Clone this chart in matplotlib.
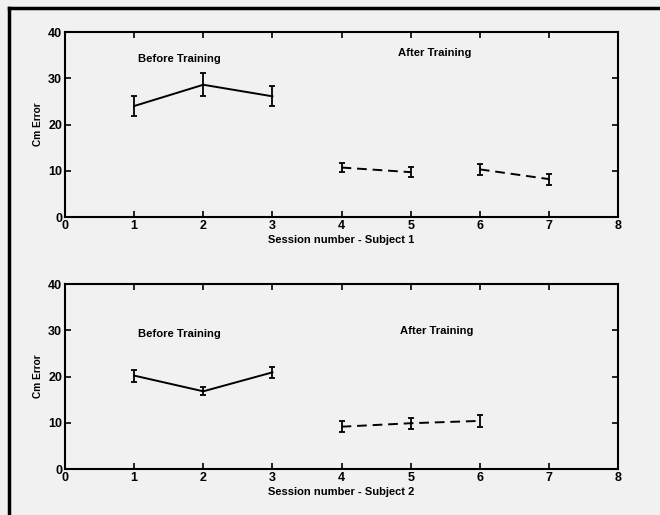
import matplotlib
matplotlib.use("Agg")
import matplotlib.pyplot as plt
from matplotlib.lines import Line2D

plt.rcParams['font.family'] = ['Liberation Sans', 'DejaVu Sans']
plt.rcParams['font.weight'] = 'bold'

# subject 1 : before / after training (two after-training blocks)
s1_before_x = [1, 2, 3]
s1_before_y = [24.0, 28.6, 26.1]
s1_before_err = [2.2, 2.5, 2.2]
s1_after_a_x = [4, 5]
s1_after_a_y = [10.7, 9.7]
s1_after_a_err = [1.0, 1.1]
s1_after_b_x = [6, 7]
s1_after_b_y = [10.3, 8.2]
s1_after_b_err = [1.2, 1.2]

# subject 2
s2_before_x = [1, 2, 3]
s2_before_y = [20.2, 16.8, 20.9]
s2_before_err = [1.3, 0.9, 1.2]
s2_after_x = [4, 5, 6]
s2_after_y = [9.15, 9.9, 10.4]
s2_after_err = [1.15, 1.2, 1.3]

xticks = [0, 1, 2, 3, 4, 5, 6, 7, 8]
yticks = [0, 10, 20, 30, 40]

bg = '#f1f1f1'
fig = plt.figure(figsize=(6.6, 5.15), dpi=100, facecolor=bg)
ax1 = fig.add_axes([0.0985, 0.5786, 0.838, 0.3592], facecolor=bg)
ax2 = fig.add_axes([0.0985, 0.0893, 0.838, 0.3592], facecolor=bg)

def errline(ax, x, y, e, ls):
    ax.errorbar(x, y, yerr=e, color='black', linestyle=ls, linewidth=1.4,
                elinewidth=1.3, capsize=2.5, capthick=1.3, dashes=(5, 3) if ls == '--' else None)

errline(ax1, s1_before_x, s1_before_y, s1_before_err, '-')
errline(ax1, s1_after_a_x, s1_after_a_y, s1_after_a_err, '--')
errline(ax1, s1_after_b_x, s1_after_b_y, s1_after_b_err, '--')
errline(ax2, s2_before_x, s2_before_y, s2_before_err, '-')
errline(ax2, s2_after_x, s2_after_y, s2_after_err, '--')

ax1.text(1.65, 34.1, 'Before Training', ha='center', va='center', fontsize=8.1, fontweight='bold')
ax1.text(5.34, 35.4, 'After Training', ha='center', va='center', fontsize=8.1, fontweight='bold')
ax2.text(1.65, 29.3, 'Before Training', ha='center', va='center', fontsize=8.1, fontweight='bold')
ax2.text(5.38, 29.9, 'After Training', ha='center', va='center', fontsize=8.1, fontweight='bold')

for ax, subj in [(ax1, 1), (ax2, 2)]:
    ax.set_xlim(0, 8)
    ax.set_ylim(0, 40)
    ax.set_xticks(xticks)
    ax.set_yticks(yticks)
    ax.tick_params(direction='in', length=4, width=1.2, top=True, right=True,
                   labelsize=9, pad=2)
    for lab in ax.get_xticklabels() + ax.get_yticklabels():
        lab.set_fontweight('bold')
    for sp in ax.spines.values():
        sp.set_linewidth(1.5)
    ax.set_xlabel('Session number - Subject %d' % subj, fontsize=8, fontweight='bold', labelpad=2)
    ax.set_ylabel('Cm Error', fontsize=7.3, fontweight='bold', labelpad=4)

# heavy border round the figure (left and top)
fig.add_artist(Line2D([0.0136, 0.0136], [0, 0.985], transform=fig.transFigure,
                      color='black', linewidth=2.5))
fig.add_artist(Line2D([0.0136, 1.0], [0.985, 0.985], transform=fig.transFigure,
                      color='black', linewidth=2.5))

fig.savefig('out.png', dpi=100, facecolor=bg)
